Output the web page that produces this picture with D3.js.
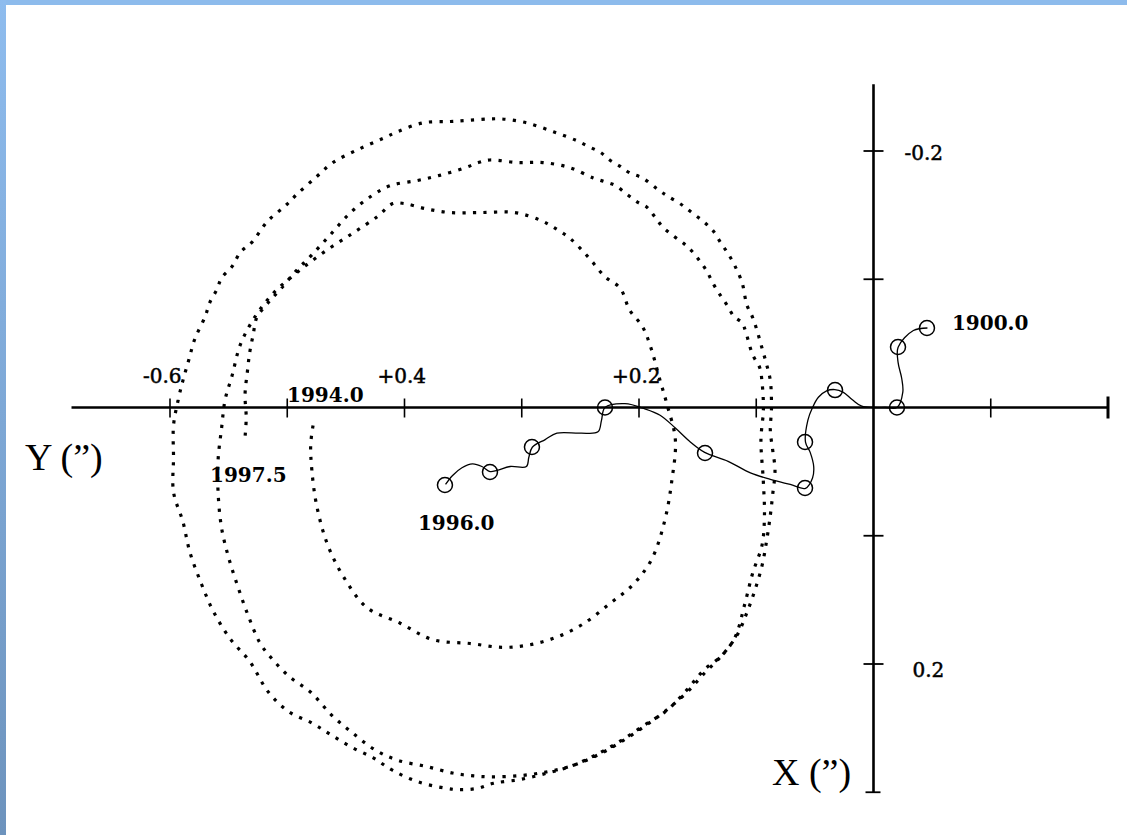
<!DOCTYPE html>
<html><head><meta charset="utf-8">
<script src="https://cdn.jsdelivr.net/npm/d3@7"></script>
<style>
html,body{margin:0;padding:0;background:#fff;}
svg{display:block;}
</style></head>
<body>
<svg id="chart" width="1127" height="835"></svg>
<script>
// ---- DATA (Y, X in arcseconds) ----
// Horizontal axis: Y ("), positive to the left; vertical axis: X ("), positive downward
const yTicks = [0.6, 0.5, 0.4, 0.3, 0.2, 0.1, -0.1, -0.2];
const xTicks = [-0.2, -0.1, 0.1, 0.2];
const yTickLabels = [{v: 0.6, t: "-0.6"}, {v: 0.4, t: "+0.4"}, {v: 0.2, t: "+0.2"}];
const xTickLabels = [{v: -0.2, t: "-0.2"}, {v: 0.2, t: "0.2"}];
const yAxisExtent = [0.684, -0.2];
const xAxisExtent = [-0.252, 0.300];

// Mean pole drift 1900.0 -> 1996.0 (line)
const driftY = [-0.046,-0.034,-0.021,-0.021,-0.024,-0.025,-0.020,-0.010,0.000,0.010,0.018,0.026,0.033,0.040,0.047,0.052,0.056,0.058,0.054,0.051,0.052,0.058,0.071,0.088,0.105,0.124,0.144,0.156,0.169,0.182,0.195,0.212,0.229,0.232,0.235,0.250,0.270,0.280,0.291,0.294,0.296,0.310,0.321,0.327,0.334,0.342,0.351,0.359,0.365];
const driftX = [-0.062,-0.060,-0.047,-0.035,-0.023,-0.012,0.000,0.000,0.000,-0.001,-0.006,-0.012,-0.014,-0.013,-0.008,0.000,0.010,0.027,0.035,0.046,0.055,0.063,0.060,0.056,0.051,0.042,0.035,0.027,0.016,0.006,0.001,-0.003,0.000,0.010,0.019,0.020,0.020,0.025,0.031,0.039,0.046,0.046,0.049,0.050,0.046,0.044,0.047,0.053,0.060];
// Marked epochs on the drift curve (circles)
const epochY = [-0.0456,-0.0209,-0.0200,0.0328,0.0584,0.0584,0.1437,0.2290,0.2913,0.3271,0.3655];
const epochX = [-0.0620,-0.0472,0.0000,-0.0136,0.0269,0.0628,0.0355,0.0000,0.0308,0.0503,0.0604];

// Pole path 1994.0 -> 1997.5 (dotted), as [Y, X]
const loop1 = [[0.478,0.014],[0.480,0.029],[0.479,0.049],[0.475,0.076],[0.466,0.106],[0.452,0.132],[0.432,0.156],[0.404,0.168],[0.376,0.181],[0.344,0.184],[0.316,0.187],[0.293,0.185],[0.270,0.179],[0.248,0.169],[0.225,0.153],[0.205,0.138],[0.189,0.118],[0.178,0.088],[0.172,0.057],[0.169,0.025],[0.176,-0.002],[0.182,-0.021],[0.190,-0.047],[0.197,-0.063],[0.208,-0.076],[0.216,-0.093],[0.229,-0.102],[0.243,-0.117],[0.259,-0.132],[0.272,-0.140],[0.284,-0.146],[0.306,-0.152],[0.336,-0.152],[0.361,-0.152],[0.382,-0.155],[0.400,-0.159],[0.410,-0.159],[0.423,-0.149],[0.444,-0.136],[0.469,-0.121],[0.492,-0.105],[0.512,-0.089],[0.528,-0.070],[0.540,-0.049],[0.547,-0.025],[0.553,-0.006],[0.556,0.016],[0.559,0.041]];
const loop2 = [[0.559,0.066],[0.556,0.094],[0.550,0.117],[0.542,0.140],[0.533,0.163],[0.523,0.184],[0.512,0.197],[0.498,0.210],[0.480,0.222],[0.462,0.240],[0.444,0.254],[0.425,0.267],[0.406,0.275],[0.381,0.280],[0.359,0.285],[0.344,0.287],[0.327,0.288],[0.301,0.287],[0.278,0.284],[0.256,0.279],[0.233,0.270],[0.214,0.260],[0.196,0.249],[0.178,0.237],[0.159,0.222],[0.144,0.207],[0.129,0.193],[0.116,0.177],[0.108,0.160],[0.101,0.142],[0.095,0.123],[0.091,0.103],[0.088,0.084],[0.086,0.068],[0.084,0.049],[0.086,0.033],[0.088,0.018],[0.087,0.000],[0.088,-0.021],[0.091,-0.033],[0.095,-0.046],[0.099,-0.059],[0.103,-0.070],[0.108,-0.080],[0.112,-0.097],[0.118,-0.110],[0.124,-0.120],[0.130,-0.128],[0.137,-0.138],[0.145,-0.145],[0.155,-0.152],[0.165,-0.159],[0.176,-0.165],[0.184,-0.170],[0.197,-0.179],[0.208,-0.183],[0.216,-0.188],[0.225,-0.193],[0.233,-0.199],[0.242,-0.203],[0.253,-0.208],[0.273,-0.215],[0.296,-0.222],[0.317,-0.225],[0.327,-0.225],[0.344,-0.224],[0.361,-0.223],[0.384,-0.222],[0.406,-0.215],[0.418,-0.210],[0.440,-0.201],[0.461,-0.191],[0.475,-0.180],[0.492,-0.166],[0.502,-0.157],[0.517,-0.145],[0.530,-0.129],[0.540,-0.121],[0.547,-0.110],[0.556,-0.101],[0.560,-0.092],[0.566,-0.082],[0.570,-0.071],[0.579,-0.053],[0.584,-0.037],[0.589,-0.021],[0.593,-0.006],[0.597,0.014]];
const loop3 = [[0.597,0.039],[0.597,0.066],[0.589,0.089],[0.583,0.113],[0.573,0.138],[0.563,0.159],[0.549,0.180],[0.532,0.198],[0.516,0.222],[0.499,0.237],[0.479,0.246],[0.463,0.255],[0.445,0.265],[0.427,0.273],[0.410,0.283],[0.388,0.292],[0.364,0.297],[0.353,0.298],[0.338,0.297],[0.324,0.293],[0.301,0.290],[0.278,0.285],[0.256,0.279],[0.233,0.269],[0.214,0.259],[0.196,0.248],[0.176,0.236],[0.159,0.220],[0.145,0.205],[0.129,0.193],[0.118,0.179],[0.110,0.154],[0.103,0.129],[0.095,0.107],[0.093,0.084],[0.094,0.057],[0.096,0.025],[0.094,0.004],[0.094,-0.006],[0.095,-0.019],[0.097,-0.031],[0.103,-0.041],[0.109,-0.059],[0.112,-0.066],[0.119,-0.071],[0.125,-0.080],[0.131,-0.088],[0.137,-0.097],[0.142,-0.106],[0.148,-0.114],[0.155,-0.122],[0.162,-0.128],[0.171,-0.134],[0.180,-0.141],[0.186,-0.148],[0.193,-0.156],[0.201,-0.160],[0.210,-0.166],[0.220,-0.173],[0.229,-0.176],[0.239,-0.179],[0.259,-0.187],[0.282,-0.191],[0.304,-0.191],[0.327,-0.193],[0.337,-0.191],[0.348,-0.187],[0.370,-0.181],[0.389,-0.177],[0.412,-0.173],[0.428,-0.165],[0.446,-0.152],[0.463,-0.135],[0.479,-0.119],[0.492,-0.107],[0.506,-0.092],[0.516,-0.082],[0.526,-0.070],[0.529,-0.057],[0.532,-0.043],[0.534,-0.028],[0.536,-0.010],[0.535,0.008],[0.536,0.023]];

const epochLabels = ["1900.0", "1996.0"];
const pathLabels = ["1994.0", "1997.5"];

// ---- DRAW ----
const svg = d3.select("#chart");
const W = 1127, H = 835;

// scanned-slide blue frame
const defs = svg.append("defs");
const g1 = defs.append("linearGradient").attr("id","lb").attr("x1",0).attr("y1",0).attr("x2",0).attr("y2",1);
g1.append("stop").attr("offset","0").attr("stop-color","#8ebcee");
g1.append("stop").attr("offset","1").attr("stop-color","#6d93bd");
svg.append("rect").attr("x",0).attr("y",0).attr("width",W).attr("height",H).attr("fill","#fff");
svg.append("rect").attr("x",0).attr("y",0).attr("width",W).attr("height",5).attr("fill","#8dbbec");
svg.append("rect").attr("x",0).attr("y",0).attr("width",6).attr("height",H).attr("fill","url(#lb)");

const xs = d3.scaleLinear().domain([0.6, -0.2]).range([170, 1108]);   // Y value -> horizontal px
const ys = d3.scaleLinear().domain([-0.2, 0.2]).range([151, 664]);    // X value -> vertical px

const serif = "'DejaVu Serif', serif";

// Dotted pole path
const dline = d3.line().x(d => xs(d[0])).y(d => ys(d[1])).curve(d3.curveCatmullRom.alpha(0.5));
const spiral = loop1.concat(loop2, loop3);
svg.append("path").attr("d", dline(spiral))
  .attr("fill","none").attr("stroke","#000").attr("stroke-width",3.2)
  .attr("stroke-dasharray","3.2,7.3");

// Axes
const ax = svg.append("g").attr("stroke","#000");
ax.append("line").attr("x1", xs(yAxisExtent[0])).attr("x2", xs(yAxisExtent[1]))
  .attr("y1", ys(0)).attr("y2", ys(0)).attr("stroke-width", 2.6);
ax.append("line").attr("x1", xs(0)).attr("x2", xs(0))
  .attr("y1", ys(xAxisExtent[0])).attr("y2", ys(xAxisExtent[1])).attr("stroke-width", 2.6);
yTicks.forEach(v => {
  const end = v === -0.2;
  ax.append("line").attr("x1", xs(v)).attr("x2", xs(v))
    .attr("y1", ys(0) - (end ? 11 : 9)).attr("y2", ys(0) + (end ? 11 : 10))
    .attr("stroke-width", end ? 3 : 1.6);
});
xTicks.concat([xAxisExtent[1]]).forEach(v => {
  const end = v === xAxisExtent[1];
  ax.append("line").attr("x1", xs(0) - (end ? 8 : 10)).attr("x2", xs(0) + (end ? 7 : 10))
    .attr("y1", ys(v)).attr("y2", ys(v)).attr("stroke-width", 1.8);
});

// Tick labels
yTickLabels.forEach(d => {
  svg.append("text").attr("x", xs(d.v) - 27).attr("y", ys(0) - 25)
    .attr("font-family", serif).attr("font-size", 20).attr("fill","#000")
    .attr("stroke","#000").attr("stroke-width",0.5).text(d.t);
});
xTickLabels.forEach(d => {
  svg.append("text").attr("x", xs(0) + (d.v < 0 ? 31 : 39)).attr("y", ys(d.v) + (d.v < 0 ? 9 : 13))
    .attr("font-family", serif).attr("font-size", 20).attr("fill","#000")
    .attr("stroke","#000").attr("stroke-width",0.5).text(d.t);
});

// Drift line + circles
const dl = d3.line().x((d,i) => xs(driftY[i])).y((d,i) => ys(driftX[i])).curve(d3.curveCatmullRom.alpha(0.5));
svg.append("path").attr("d", dl(driftY)).attr("fill","none").attr("stroke","#000").attr("stroke-width",1.3);
svg.selectAll("circle.ep").data(epochY).join("circle").attr("class","ep")
  .attr("cx", (d,i) => xs(epochY[i])).attr("cy", (d,i) => ys(epochX[i])).attr("r", 7.5)
  .attr("fill","#fff").attr("fill-opacity",0).attr("stroke","#000").attr("stroke-width",1.5);

// Epoch labels
const first = epochY.length - 1;
svg.append("text").attr("x", xs(epochY[0]) + 25).attr("y", ys(epochX[0]) + 2)
  .attr("font-family", serif).attr("font-weight","bold").attr("font-size", 20).text(epochLabels[0]);
svg.append("text").attr("x", xs(epochY[first]) - 27).attr("y", ys(epochX[first]) + 45)
  .attr("font-family", serif).attr("font-weight","bold").attr("font-size", 20).text(epochLabels[1]);
svg.append("text").attr("x", xs(loop1[0][0]) - 26).attr("y", ys(0) - 6)
  .attr("font-family", serif).attr("font-weight","bold").attr("font-size", 20).text(pathLabels[0]);
const last = loop3[loop3.length - 1];
svg.append("text").attr("x", xs(last[0]) - 35).attr("y", ys(last[1]) + 45)
  .attr("font-family", serif).attr("font-weight","bold").attr("font-size", 20).text(pathLabels[1]);

// Axis titles
svg.append("text").attr("x", 25).attr("y", 470).attr("font-family","'Liberation Serif', serif")
  .attr("font-size", 38).text("Y (\u201D)");
svg.append("text").attr("x", 772).attr("y", 785).attr("font-family","'Liberation Serif', serif")
  .attr("font-size", 38).text("X (\u201D)");
</script>
</body></html>
